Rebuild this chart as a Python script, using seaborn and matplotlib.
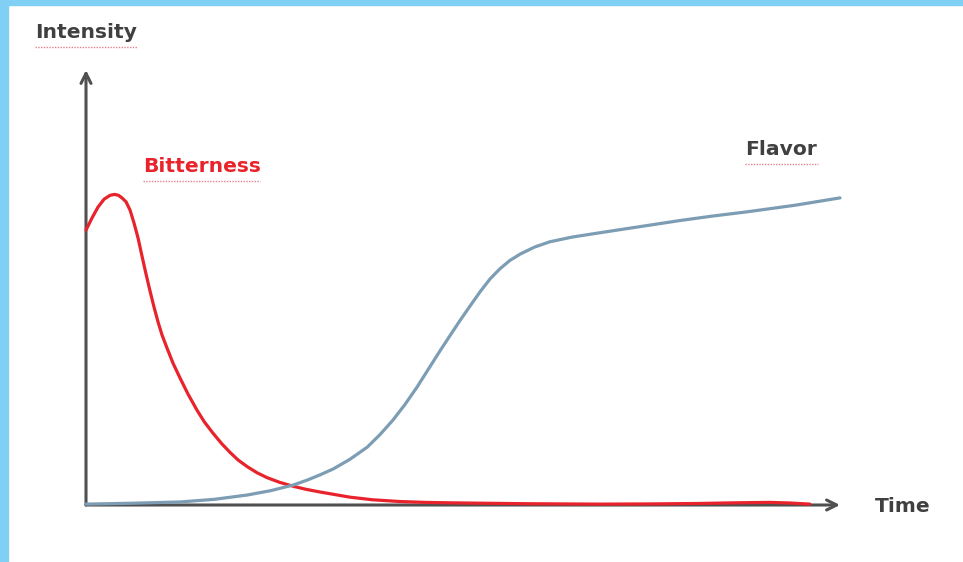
import pandas as pd
import matplotlib.pyplot as plt
import seaborn as sns
from matplotlib.patches import Rectangle

# values (time 0-100, intensity 0-100)
bitter_time = [0, 0.8, 1.6, 2.4, 3.2, 3.8, 4.3, 4.77, 5.31, 5.84, 6.37, 6.90,
               7.43, 7.96, 8.49, 9.02, 9.55, 10.08, 10.74, 11.54, 12.47, 13.53,
               14.72, 15.7, 16.8, 18.0, 19.1, 20.2, 21.4, 22.7, 24.0, 25.7, 27.5,
               29.2, 31.0, 33.0, 35.0, 38.0, 41.6, 45.0, 48.3, 53.0, 58.0, 63.0,
               68.2, 75.0, 81.4, 86.0, 90.7, 93.5, 96.0]
bitter_val = [63.2, 66.0, 68.5, 70.3, 71.2, 71.4, 71.2, 70.6, 69.7, 67.8, 64.8,
              61.4, 57.2, 53.1, 49.2, 45.5, 42.1, 39.1, 36.1, 32.6, 29.2, 25.5,
              21.8, 19.1, 16.6, 14.1, 12.1, 10.3, 8.8, 7.4, 6.3, 5.2, 4.3, 3.6,
              3.0, 2.4, 1.8, 1.2, 0.8, 0.6, 0.5, 0.4, 0.3, 0.25, 0.2, 0.25, 0.35,
              0.5, 0.6, 0.45, 0.2]

flavor_time = [0, 6, 12.5, 17, 21.4, 24.5, 27.5, 29.3, 31.0, 32.8, 35.0, 37.3,
               39.0, 40.7, 42.3, 43.9, 45.4, 46.9, 48.3, 49.6, 51.0, 52.3, 53.6,
               54.9, 56.2, 57.6, 59.5, 61.5, 64.5, 68.2, 73.5, 78.8, 83.0, 87.7,
               94.0, 100]
flavor_val = [0.2, 0.4, 0.7, 1.3, 2.3, 3.3, 4.6, 5.7, 6.9, 8.3, 10.5, 13.3,
              16.2, 19.5, 23.1, 27.1, 31.2, 35.3, 39.0, 42.4, 45.9, 49.1, 52.0,
              54.3, 56.2, 57.7, 59.3, 60.5, 61.6, 62.6, 64.0, 65.4, 66.4, 67.4,
              68.9, 70.6]

df = pd.concat([
    pd.DataFrame({'time': bitter_time, 'intensity': bitter_val, 'series': 'Bitterness'}),
    pd.DataFrame({'time': flavor_time, 'intensity': flavor_val, 'series': 'Flavor'}),
])

W, H = 963, 562
sns.set_style("white")
plt.rcParams['font.family'] = ['DejaVu Sans']

fig = plt.figure(figsize=(W / 100, H / 100), dpi=100)
fig.patch.set_facecolor('white')

# light blue frame on top and left
border = '#80D0F6'
fig.patches.append(Rectangle((0, 0), 8 / W, 1, transform=fig.transFigure, color=border, zorder=0))
fig.patches.append(Rectangle((0, 1 - 5 / H), 1, 5 / H, transform=fig.transFigure, color=border, zorder=0))

ax = fig.add_axes([86 / W, 57 / H, 754 / W, 435 / H])
ax.patch.set_alpha(0)

sns.lineplot(
    data=df,
    x='time',
    y='intensity',
    hue='series',
    palette={'Bitterness': '#E8232B', 'Flavor': '#7C9DB4'},
    linewidth=2.3,
    legend=False,
    ax=ax,
    sort=False,
    clip_on=False
)

ax.set_xlim(0, 100)
ax.set_ylim(0, 100)
ax.set_xticks([])
ax.set_yticks([])
ax.set_xlabel('')
ax.set_ylabel('')
sns.despine(ax=ax, left=True, bottom=True)

# axis arrows
axis_col = '#505050'
arrow = dict(arrowstyle='->', color=axis_col, lw=2.2, mutation_scale=18, shrinkA=0, shrinkB=0)
ax.annotate('', xy=(0, 1.0), xytext=(0, 0), xycoords='axes fraction', arrowprops=arrow, zorder=1)
ax.annotate('', xy=(1.0, 0), xytext=(0, 0), xycoords='axes fraction', arrowprops=arrow, zorder=1)


def fpos(x, y):
    return x / W, 1 - y / H


fs = 14.6
fig.text(*fpos(35, 33), 'Intensity', color='#404040', fontsize=fs, fontweight='bold', va='center', ha='left')
fig.text(*fpos(875, 507), 'Time', color='#404040', fontsize=fs, fontweight='bold', va='center', ha='left')
fig.text(*fpos(143, 167), 'Bitterness', color='#E8232B', fontsize=fs, fontweight='bold', va='center', ha='left')
fig.text(*fpos(745, 150), 'Flavor', color='#404040', fontsize=fs, fontweight='bold', va='center', ha='left')

# spell-check squiggles under labels
for x0, x1, y in [(35, 137, 47), (143, 260, 181), (745, 818, 164)]:
    fig.lines.append(plt.Line2D([x0 / W, x1 / W], [1 - y / H] * 2, transform=fig.transFigure,
                                color='#E06070', lw=1, ls=(0, (1, 1)), alpha=0.8))

fig.savefig('out.png', dpi=100)
